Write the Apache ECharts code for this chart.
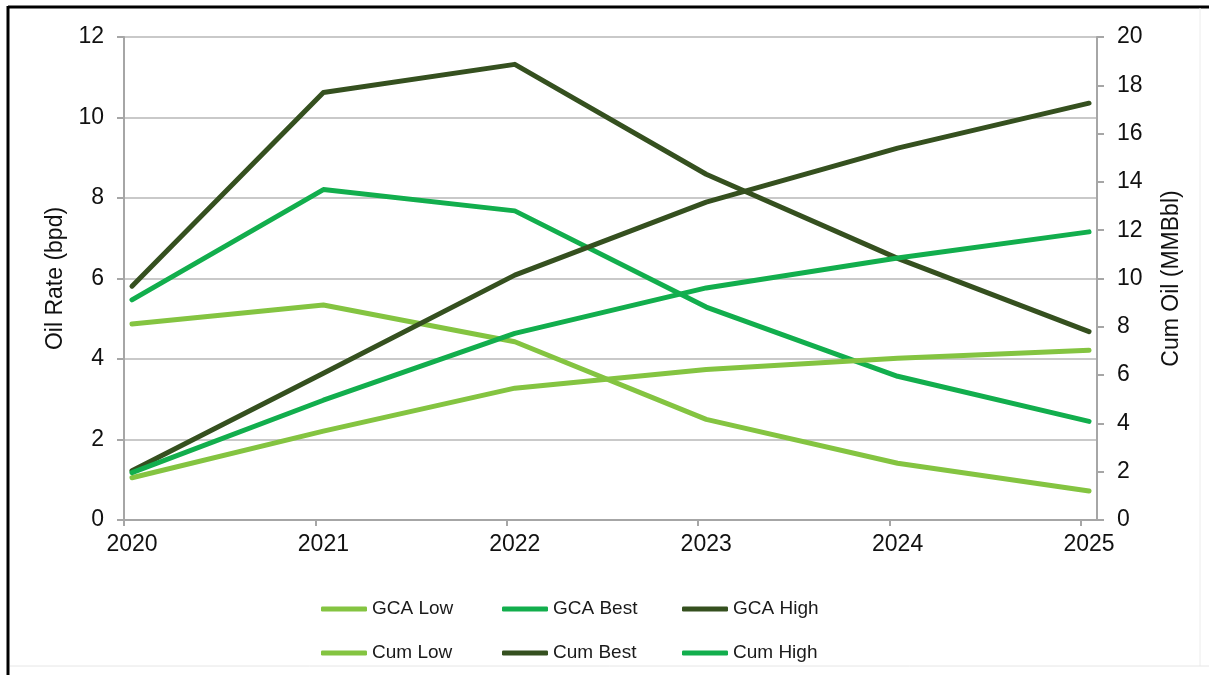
<!DOCTYPE html>
<html>
<head>
<meta charset="utf-8">
<title>Oil Rate and Cumulative Oil</title>
<script src="https://cdn.jsdelivr.net/npm/echarts@6/dist/echarts.min.js"></script>
<style>
  html, body { margin: 0; padding: 0; background: #ffffff; }
  #chart { width: 1209px; height: 675px; }
</style>
</head>
<body>
<div id="chart"></div>
<script>
// Forecast years
const years = [2020, 2021, 2022, 2023, 2024, 2025];

// Oil rate forecasts (bpd), left axis
const gcaLow  = [4.87, 5.34, 4.43, 2.50, 1.41, 0.72];
const gcaBest = [5.47, 8.21, 7.68, 5.29, 3.57, 2.45];
const gcaHigh = [5.81, 10.62, 11.32, 8.59, 6.50, 4.68];

// Cumulative oil (MMBbl), right axis
const cumLow  = [1.75, 3.68, 5.46, 6.23, 6.70, 7.03];
const cumBest = [2.04, 6.08, 10.14, 13.16, 15.40, 17.26];
const cumHigh = [1.96, 4.96, 7.73, 9.61, 10.85, 11.93];

// Axis tick values
const rateTicks = [0, 2, 4, 6, 8, 10, 12];
const cumTicks = [0, 2, 4, 6, 8, 10, 12, 14, 16, 18, 20];

const LIGHT = '#84c441';
const MEDIUM = '#12ae4d';
const DARK = '#35501f';

// Half a month of padding either side of the year points
const pad = 1 / 24;

const pairs = vals => years.map((y, i) => [y, vals[i]]);

const seriesDefs = [
  { name: 'GCA Low',  data: gcaLow,  color: LIGHT,  axis: 0 },
  { name: 'GCA Best', data: gcaBest, color: MEDIUM, axis: 0 },
  { name: 'GCA High', data: gcaHigh, color: DARK,   axis: 0 },
  { name: 'Cum Low',  data: cumLow,  color: LIGHT,  axis: 1 },
  { name: 'Cum Best', data: cumBest, color: DARK,   axis: 1 },
  { name: 'Cum High', data: cumHigh, color: MEDIUM, axis: 1 }
];

const FONT = '"Liberation Sans", Arial, sans-serif';
const AXIS_GREY = '#a6a6a6';

const legendPos = [
  { left: 316, top: 594 }, { left: 497, top: 594 }, { left: 677, top: 594 },
  { left: 316, top: 638 }, { left: 497, top: 638 }, { left: 677, top: 638 }
];

const chart = echarts.init(document.getElementById('chart'), null, { renderer: 'canvas' });

chart.setOption({
  animation: false,
  backgroundColor: '#ffffff',
  textStyle: { fontFamily: FONT },
  grid: { left: 124, right: 112, top: 37, bottom: 155, containLabel: false },
  legend: seriesDefs.map((s, i) => ({
    data: [s.name],
    left: legendPos[i].left,
    top: legendPos[i].top,
    itemWidth: 46,
    itemHeight: 5,
    icon: 'roundRect',
    textStyle: { fontSize: 19, color: '#1a1a1a', fontFamily: FONT, lineHeight: 20 },
    selectedMode: false
  })),
  xAxis: {
    type: 'value',
    min: years[0] - pad,
    max: years[years.length - 1] + pad,
    axisLine: { show: true, onZero: false, lineStyle: { color: AXIS_GREY, width: 2 } },
    axisTick: {
      show: true,
      length: 6,
      lineStyle: { color: AXIS_GREY, width: 2 },
      customValues: years.map(y => y - pad)
    },
    axisLabel: {
      customValues: years,
      fontSize: 23,
      color: '#111',
      margin: 13,
      formatter: v => String(Math.round(v))
    },
    splitLine: { show: false }
  },
  yAxis: [
    {
      type: 'value',
      min: 0,
      max: 12,
      interval: 2,
      name: 'Oil Rate (bpd)',
      nameLocation: 'middle',
      nameRotate: 90,
      nameGap: 55,
      nameTextStyle: { fontSize: 23, color: '#111', fontFamily: FONT },
      axisLine: { show: true, lineStyle: { color: AXIS_GREY, width: 2 } },
      axisTick: { show: true, length: 7, lineStyle: { color: AXIS_GREY, width: 2 } },
      axisLabel: {
        fontSize: 23, color: '#111', margin: 20,
        formatter: v => rateTicks.includes(v) ? String(v) : ''
      },
      splitLine: { show: true, lineStyle: { color: '#c9c9c9', width: 2 } }
    },
    {
      type: 'value',
      min: 0,
      max: 20,
      interval: 2,
      position: 'right',
      name: 'Cum Oil (MMBbl)',
      nameLocation: 'middle',
      nameRotate: 90,
      nameGap: 63,
      nameTextStyle: { fontSize: 23, color: '#111', fontFamily: FONT },
      axisLine: { show: true, lineStyle: { color: AXIS_GREY, width: 2 } },
      axisTick: { show: true, length: 7, lineStyle: { color: AXIS_GREY, width: 2 } },
      axisLabel: {
        fontSize: 23, color: '#111', margin: 20,
        formatter: v => cumTicks.includes(v) ? String(v) : ''
      },
      splitLine: { show: false }
    }
  ],
  series: seriesDefs.map(s => ({
    name: s.name,
    type: 'line',
    yAxisIndex: s.axis,
    data: pairs(s.data),
    showSymbol: false,
    symbol: 'none',
    smooth: false,
    color: s.color,
    lineStyle: { color: s.color, width: 5, cap: 'round', join: 'round' },
    itemStyle: { color: s.color },
    emphasis: { disabled: true }
  })),
  graphic: [
    // Frame round the whole figure
    { type: 'line', shape: { x1: 8, y1: 7, x2: 1209, y2: 7 }, style: { stroke: '#000', lineWidth: 3 }, silent: true },
    { type: 'line', shape: { x1: 8, y1: 6, x2: 8, y2: 675 }, style: { stroke: '#000', lineWidth: 3 }, silent: true },
    { type: 'line', shape: { x1: 1200, y1: 8, x2: 1200, y2: 666 }, style: { stroke: '#ececec', lineWidth: 1 }, silent: true },
    { type: 'line', shape: { x1: 10, y1: 666, x2: 1209, y2: 666 }, style: { stroke: '#e6e6e6', lineWidth: 1 }, silent: true }
  ]
});
</script>
</body>
</html>
